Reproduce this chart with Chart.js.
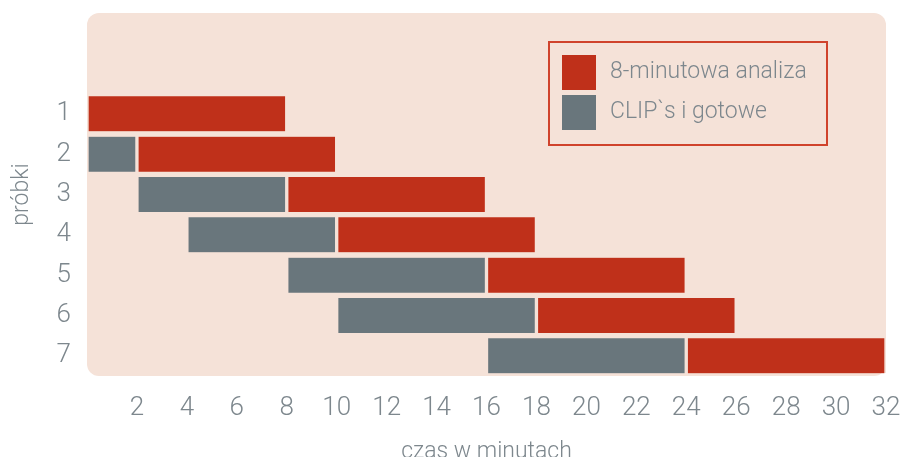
<!DOCTYPE html>
<html>
<head>
<meta charset="utf-8">
<script src="https://cdn.jsdelivr.net/npm/chart.js@4"></script>
<style>
  html, body { margin: 0; padding: 0; background: #ffffff; }
  #wrap { width: 907px; height: 457px; position: relative; }
</style>
</head>
<body>
<div id="wrap"><canvas id="c" width="907" height="457"></canvas></div>
<script>
// ---- data ----
const rows = ['1', '2', '3', '4', '5', '6', '7'];
const analysisStart = [0, 2, 8, 10, 16, 18, 24];
const analysisEnd   = [8, 10, 16, 18, 24, 26, 32];
const clipStart = [null, 0, 2, 4, 8, 10, 16];
const clipEnd   = [null, 2, 8, 10, 16, 18, 24];
const seriesNames = ['8-minutowa analiza', 'CLIP`s i gotowe'];
const xTicks = [2, 4, 6, 8, 10, 12, 14, 16, 18, 20, 22, 24, 26, 28, 30, 32];
const xTitle = 'czas w minutach';
const yTitle = 'próbki';

// ---- style ----
const RED = '#BF301A';
const GRAY = '#69767C';
const PEACH = '#F5E2D8';
const TEXT = '#7D878D';
const FONT = "Roboto, 'Liberation Sans', sans-serif";

const yLabels = ['', ''].concat(rows);
const pad = (arr) => [null, null].concat(arr);
const pairs = (s, e) => s.map((v, i) => (v === null ? null : [v, e[i]]));

const bgPlugin = {
  id: 'bg',
  beforeDraw(chart) {
    const { ctx, chartArea: a } = chart;
    ctx.save();
    ctx.fillStyle = PEACH;
    ctx.beginPath();
    ctx.roundRect(a.left, a.top, a.right - a.left, a.bottom - a.top, 12);
    ctx.fill();
    ctx.restore();
  }
};

const legendPlugin = {
  id: 'boxLegend',
  afterDraw(chart) {
    const { ctx } = chart;
    const x0 = 549, y0 = 42, w = 278, h = 103;
    ctx.save();
    ctx.strokeStyle = '#D0432C';
    ctx.lineWidth = 2;
    ctx.strokeRect(x0, y0, w, h);
    const items = [
      { label: chart.data.datasets[0].label, color: chart.data.datasets[0].backgroundColor },
      { label: chart.data.datasets[1].label, color: chart.data.datasets[1].backgroundColor }
    ];
    items.forEach((it, i) => {
      const top = y0 + 13 + i * 40;
      ctx.fillStyle = it.color;
      ctx.fillRect(x0 + 13, top, 34, 35);
      ctx.fillStyle = TEXT;
      ctx.font = "300 23px " + FONT;
      ctx.textBaseline = 'middle';
      ctx.textAlign = 'left';
      ctx.fillText(it.label, x0 + 61, top + 17.5);
    });
    ctx.restore();
  }
};

new Chart(document.getElementById('c'), {
  type: 'bar',
  data: {
    labels: yLabels,
    datasets: [
      {
        label: seriesNames[0],
        data: pad(pairs(analysisStart, analysisEnd)),
        backgroundColor: RED,
        borderColor: PEACH,
        borderWidth: { left: 2, right: 2, top: 0, bottom: 0 },
        borderSkipped: false,
        barThickness: 35,
        grouped: false
      },
      {
        label: seriesNames[1],
        data: pad(pairs(clipStart, clipEnd)),
        backgroundColor: GRAY,
        borderColor: PEACH,
        borderWidth: { left: 2, right: 2, top: 0, bottom: 0 },
        borderSkipped: false,
        barThickness: 35,
        grouped: false
      }
    ]
  },
  options: {
    indexAxis: 'y',
    responsive: false,
    animation: false,
    layout: { padding: { left: 0, right: 21, top: 13, bottom: 0 } },
    plugins: { legend: { display: false }, tooltip: { enabled: false } },
    scales: {
      x: {
        type: 'linear',
        min: 0,
        max: 32,
        grid: { display: false, drawTicks: false },
        border: { display: false },
        afterBuildTicks(scale) {
          scale.ticks = [{ value: 0 }].concat(xTicks.map(v => ({ value: v })));
        },
        ticks: {
          color: TEXT,
          font: { family: FONT, size: 26, weight: '300' },
          padding: 17,
          maxRotation: 0,
          autoSkip: false,
          callback: (v) => (xTicks.includes(v) ? String(v) : '')
        },
        title: {
          display: true,
          text: xTitle,
          color: TEXT,
          font: { family: FONT, size: 23, weight: '300', lineHeight: 1.0 },
          padding: { top: 0, bottom: -7 }
        },
        afterFit(scale) {
          scale.height = 81;
          scale.paddingLeft = 0;
          scale.paddingRight = 0;
        }
      },
      y: {
        type: 'category',
        offset: true,
        grid: { display: false, drawTicks: false },
        border: { display: false },
        ticks: {
          color: TEXT,
          font: { family: FONT, size: 26, weight: '300' },
          padding: 16
        },
        title: {
          display: true,
          text: yTitle,
          color: TEXT,
          font: { family: FONT, size: 23, weight: '300', lineHeight: 1.2 },
          padding: { top: 8, bottom: 0 }
        },
        afterFit(scale) {
          scale.width = 87;
          scale.paddingTop = 0;
          scale.paddingBottom = 0;
        }
      }
    }
  },
  plugins: [bgPlugin, legendPlugin]
});
</script>
</body>
</html>
